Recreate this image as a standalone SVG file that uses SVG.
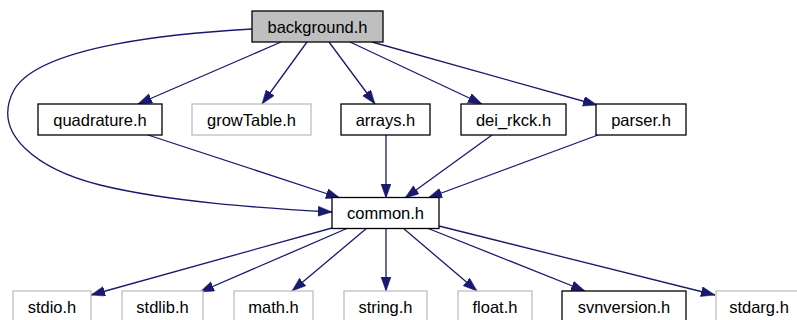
<svg xmlns="http://www.w3.org/2000/svg" width="797" height="320" viewBox="0 0 797 320">
<style>
.n rect{fill:#fff;stroke:#000;stroke-width:1.3}
.g rect{fill:#fff;stroke:#bfbfbf;stroke-width:1.3}
#background rect{fill:#bfbfbf}
text{font-family:"Liberation Sans",Arial,sans-serif;font-size:16.5px;fill:#000;text-anchor:middle}
.e{fill:none;stroke:#191970;stroke-width:1.3;marker-end:url(#a)}
</style>
<defs>
<marker id="a" markerUnits="userSpaceOnUse" markerWidth="15" markerHeight="11" refX="14" refY="5" orient="auto">
<path d="M0,0 L14,5 L0,10 z" fill="#191970" stroke="#191970" stroke-width="0.5"/>
</marker>
</defs>
<g id="connectors">
<path class="e" d="M252,29 C180,33 40,45 14,90 C-10,135 40,170 100,185 C170,202 260,208 332,212"/>
<path class="e" d="M281,42 L138,104"/>
<path class="e" d="M307,42 L262,104"/>
<path class="e" d="M329,42 L375,104"/>
<path class="e" d="M350,42 L482,104"/>
<path class="e" d="M372,42 L597,105"/>
<path class="e" d="M148,135 L340,198"/>
<path class="e" d="M386,135 L386,198"/>
<path class="e" d="M492,135 L405,198"/>
<path class="e" d="M598,135 L428,198"/>
<path class="e" d="M332,228 L91,295"/>
<path class="e" d="M348,228 L200,292"/>
<path class="e" d="M367,228 L292,291"/>
<path class="e" d="M386,228 L386,291"/>
<path class="e" d="M403,228 L477,291"/>
<path class="e" d="M427,228 L585,291"/>
<path class="e" d="M439,226 L715,295"/>
</g>
<g id="background" class="n"><rect x="252" y="11" width="131" height="31"/><text x="317.5" y="32.5">background.h</text></g>
<g id="quadrature" class="n"><rect x="38" y="104" width="124" height="31"/><text x="100" y="125.5">quadrature.h</text></g>
<g id="growTable" class="g"><rect x="192" y="104" width="119" height="31"/><text x="251.5" y="125.5">growTable.h</text></g>
<g id="arrays" class="n"><rect x="341" y="104" width="89" height="31"/><text x="385.5" y="125.5">arrays.h</text></g>
<g id="dei_rkck" class="n"><rect x="461" y="104" width="105" height="31"/><text x="513.5" y="125.5">dei_rkck.h</text></g>
<g id="parser" class="n"><rect x="596" y="104" width="90" height="31"/><text x="641" y="125.5">parser.h</text></g>
<g id="common" class="n"><rect x="332" y="197.5" width="107" height="31"/><text x="385.5" y="219">common.h</text></g>
<g id="stdio" class="g"><rect x="13" y="291" width="78" height="31"/><text x="52" y="312.5">stdio.h</text></g>
<g id="stdlib" class="g"><rect x="122" y="291" width="81" height="31"/><text x="162.5" y="312.5">stdlib.h</text></g>
<g id="math" class="g"><rect x="234" y="291" width="79" height="31"/><text x="273.5" y="312.5">math.h</text></g>
<g id="string" class="g"><rect x="344" y="291" width="83" height="31"/><text x="385.5" y="312.5">string.h</text></g>
<g id="float" class="g"><rect x="458" y="291" width="74" height="31"/><text x="495" y="312.5">float.h</text></g>
<g id="svnversion" class="n"><rect x="562" y="291" width="124" height="31"/><text x="624" y="312.5">svnversion.h</text></g>
<g id="stdarg" class="g"><rect x="716" y="291" width="84" height="31"/><text x="759" y="312.5">stdarg.h</text></g>
</svg>
